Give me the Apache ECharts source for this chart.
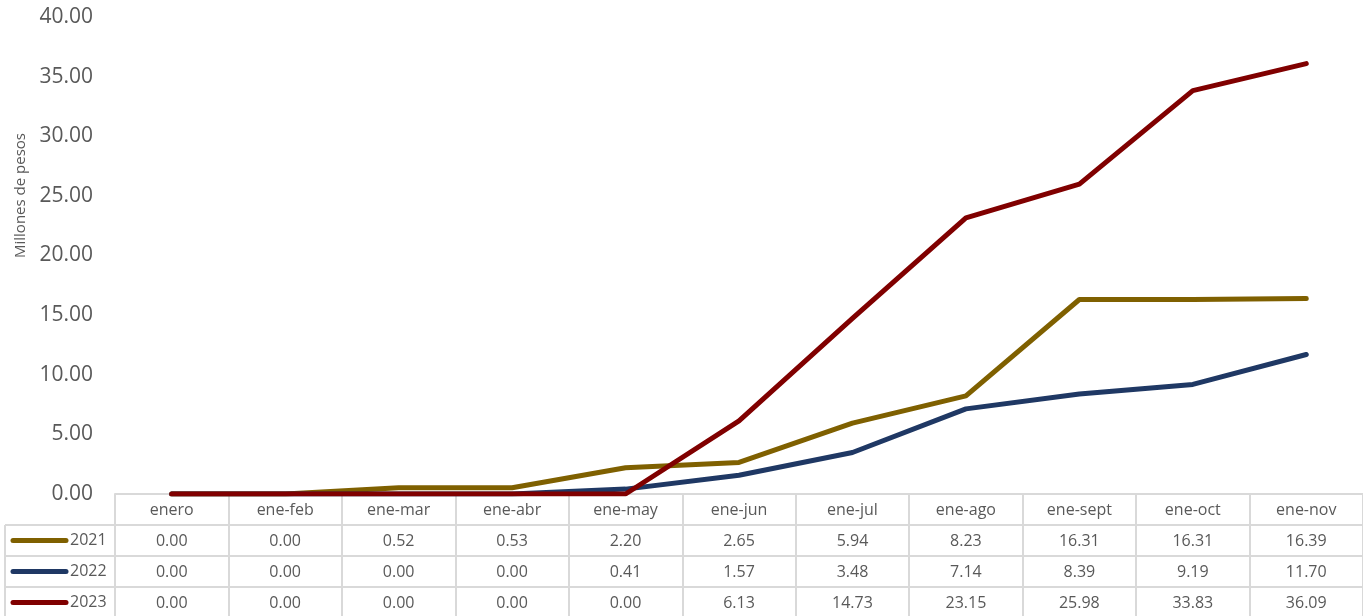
<!DOCTYPE html>
<html><head><meta charset="utf-8">
<script src="https://cdn.jsdelivr.net/npm/echarts@6/dist/echarts.min.js"></script>
<style>html,body{margin:0;padding:0;background:#fff}#c{width:1363px;height:616px}</style>
</head><body><div id="c"></div>
<script>
const categories = ['enero','ene-feb','ene-mar','ene-abr','ene-may','ene-jun','ene-jul','ene-ago','ene-sept','ene-oct','ene-nov'];
const seriesNames = ['2021','2022','2023'];
const v2021 = [0.00,0.00,0.52,0.53,2.20,2.65,5.94,8.23,16.31,16.31,16.39];
const v2022 = [0.00,0.00,0.00,0.00,0.41,1.57,3.48,7.14,8.39,9.19,11.70];
const v2023 = [0.00,0.00,0.00,0.00,0.00,6.13,14.73,23.15,25.98,33.83,36.09];
const yTicks = {min:0, max:40, interval:5};
const colors = ['#7F6000','#1F3864','#800000'];
const values = [v2021, v2022, v2023];

const FONT = '"Open Sans", sans-serif';
const GRID_LEFT = 115, GRID_BOTTOM = 122, ROW = 31, TABLE_LEFT = 5;
const LINE_C = '#d9d9d9', TXT_C = '#595959';
const H = 616, axisY = H - GRID_BOTTOM;

const chart = echarts.init(document.getElementById('c'), null, {renderer:'canvas'});

const xAxes = [{
  type:'category', data:categories, position:'bottom', boundaryGap:true,
  axisLine:{show:true, lineStyle:{color:LINE_C, width:2}},
  axisTick:{show:true, length:ROW, interval:0, lineStyle:{color:LINE_C, width:2}},
  axisLabel:{interval:0, margin:8, color:TXT_C, fontFamily:FONT, fontSize:16},
  splitLine:{show:false}
}];
values.forEach((arr, i) => {
  xAxes.push({
    type:'category', data:categories, position:'bottom', offset:ROW*(i+1), boundaryGap:true,
    axisLine:{show:true, lineStyle:{color:LINE_C, width:2}},
    axisTick:{show:true, length:ROW, interval:0, lineStyle:{color:LINE_C, width:2}},
    axisLabel:{interval:0, margin:8, color:TXT_C, fontFamily:FONT, fontSize:16,
      formatter:(v, idx) => arr[idx].toFixed(2)},
    splitLine:{show:false}
  });
});

const graphics = [];
graphics.push({type:'line', shape:{x1:TABLE_LEFT, y1:axisY+ROW, x2:GRID_LEFT, y2:axisY+ROW}, style:{stroke:LINE_C, lineWidth:2}});
values.forEach((arr, i) => {
  const yTop = axisY + ROW*(i+1), yMid = yTop + ROW/2;
  graphics.push({type:'line', shape:{x1:TABLE_LEFT, y1:yTop+ROW, x2:GRID_LEFT, y2:yTop+ROW}, style:{stroke:LINE_C, lineWidth:2}});
  graphics.push({type:'line', shape:{x1:13, y1:yMid, x2:66, y2:yMid}, style:{stroke:colors[i], lineWidth:5, lineCap:'round'}});
  graphics.push({type:'text', x:70, y:yMid, style:{text:seriesNames[i], fill:TXT_C, font:'16px '+FONT, textVerticalAlign:'middle', verticalAlign:'middle'}});
});
graphics.push({type:'line', shape:{x1:TABLE_LEFT, y1:axisY+ROW, x2:TABLE_LEFT, y2:H}, style:{stroke:LINE_C, lineWidth:2}});

chart.setOption({
  animation:false,
  grid:{left:GRID_LEFT, right:-4, top:17, bottom:GRID_BOTTOM, containLabel:false},
  xAxis:xAxes,
  yAxis:{type:'value', min:yTicks.min, max:yTicks.max, interval:yTicks.interval,
    name:'Millones de pesos', nameLocation:'middle', nameGap:84, nameRotate:90,
    nameTextStyle:{color:TXT_C, fontFamily:FONT, fontSize:15, padding:[0,0,0,120]},
    axisLine:{show:false}, axisTick:{show:false}, splitLine:{show:false},
    axisLabel:{margin:22, color:TXT_C, fontFamily:FONT, fontSize:21, formatter:v => v.toFixed(2)}},
  series: values.map((arr, i) => ({
    name:seriesNames[i], type:'line', data:arr, xAxisIndex:0, symbol:'none',
    lineStyle:{color:colors[i], width:5, cap:'round', join:'round'}, itemStyle:{color:colors[i]}
  })),
  graphic:graphics
});
</script></body></html>
